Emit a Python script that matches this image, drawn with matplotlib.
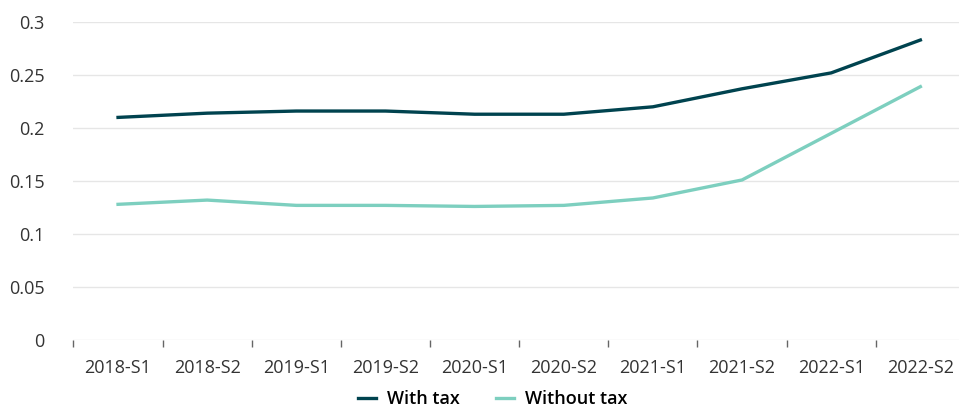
import numpy as np
import matplotlib
matplotlib.use("Agg")
import matplotlib.pyplot as plt

plt.rcParams["font.family"] = ["Open Sans", "DejaVu Sans"]

periods = ["2018-S1", "2018-S2", "2019-S1", "2019-S2", "2020-S1",
           "2020-S2", "2021-S1", "2021-S2", "2022-S1", "2022-S2"]
with_tax = [0.210, 0.214, 0.216, 0.216, 0.213, 0.213, 0.220, 0.237, 0.252, 0.283]
without_tax = [0.128, 0.132, 0.127, 0.127, 0.126, 0.127, 0.134, 0.151, 0.195, 0.239]
y_ticks = [0, 0.05, 0.1, 0.15, 0.2, 0.25, 0.3]
y_labels = ["0", "0.05", "0.1", "0.15", "0.2", "0.25", "0.3"]

fig = plt.figure(figsize=(9.59, 4.09), dpi=100)
ax = fig.add_axes([0.0766, 0.1687, 0.9296, 0.7775])

x = np.arange(len(periods))
ax.plot(x, with_tax, color="#00434f", linewidth=2.4, label="With tax")
ax.plot(x, without_tax, color="#7dcfbf", linewidth=2.4, label="Without tax")

ax.set_xlim(-0.5, len(periods) - 0.5)
ax.set_ylim(0, 0.3)
ax.set_yticks(y_ticks)
ax.set_yticklabels(y_labels)
ax.yaxis.grid(True, color="#e6e6e6", linewidth=1)
ax.set_axisbelow(True)

for s in ["top", "right", "left", "bottom"]:
    ax.spines[s].set_visible(False)

ax.set_xticks(x)
ax.set_xticklabels(periods)
ax.set_xticks(np.arange(-0.5, len(periods), 1), minor=True)
ax.tick_params(axis="x", which="major", length=0, pad=14, labelsize=13, labelcolor="#333333")
ax.tick_params(axis="x", which="minor", length=5, width=1, color="#666666")
ax.tick_params(axis="y", length=0, pad=21, labelsize=13, labelcolor="#333333")

ax.legend(loc="center", bbox_to_anchor=(0.47, -0.185), ncol=2, frameon=False,
          handlelength=1.0, handletextpad=0.6, columnspacing=2.0,
          borderpad=0.2, prop={"weight": "semibold", "size": 13})

fig.savefig("out.png", dpi=100)
